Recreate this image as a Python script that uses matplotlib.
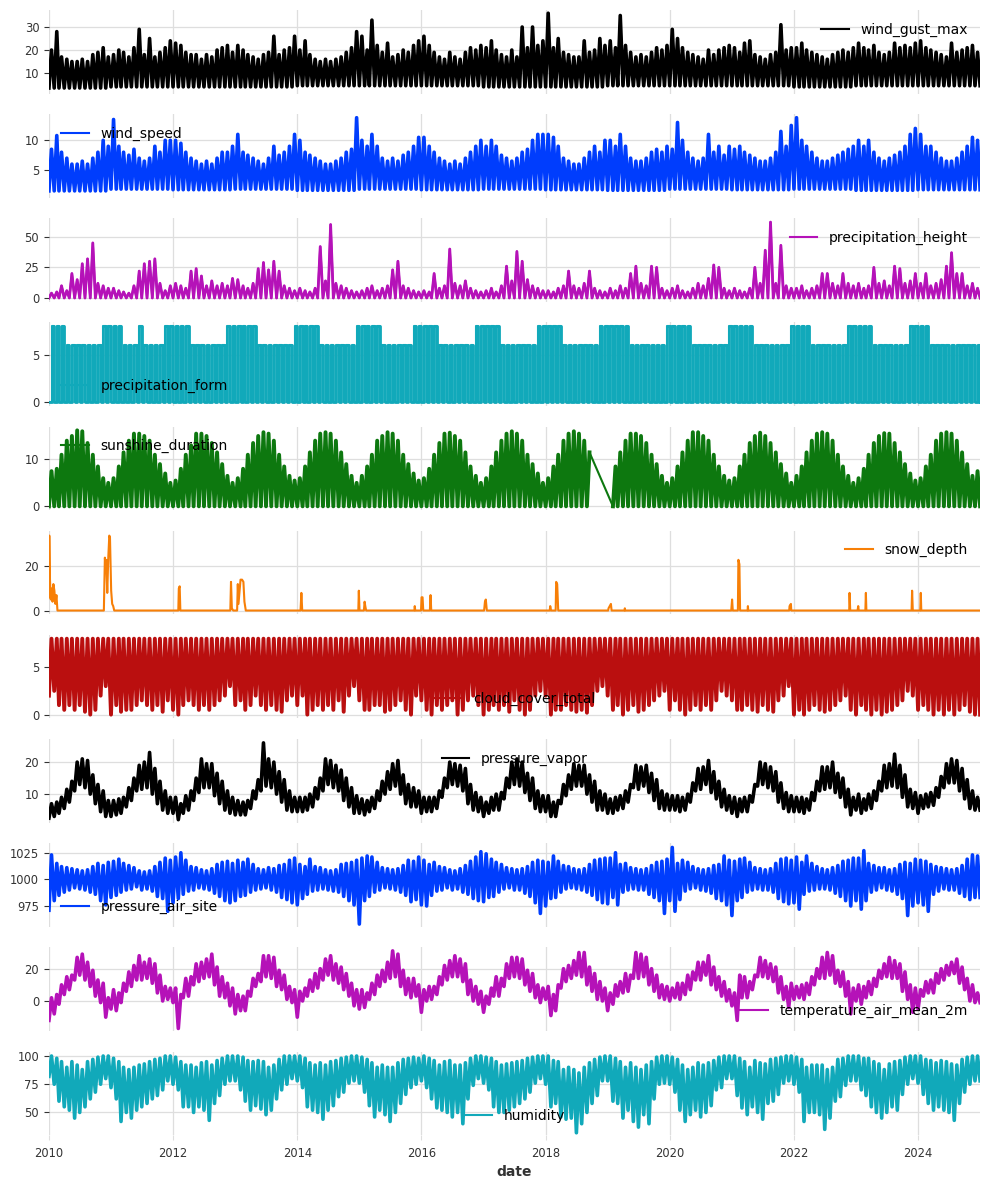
import numpy as np
import pandas as pd
import matplotlib
matplotlib.use('Agg')
import matplotlib.pyplot as plt
import matplotlib.dates as mdates
from matplotlib.lines import Line2D

# monthly envelopes, Jan 2010 .. Dec 2024 (one row per year)
gust_lo = [3.5, 4, 4, 4, 4.5, 4.5, 4.5, 4, 4, 4.5, 4.5, 4.5, 4, 4.5, 4.5]
gust_hi = [
    20, 28, 17, 16, 15, 15, 16, 15, 18, 19, 21, 17,
    18, 20, 19, 17, 21, 29, 18, 25, 17, 19, 21, 24,
    23, 22, 19, 18, 18, 16, 18, 17, 20, 21, 22, 19,
    22, 20, 18, 17, 16, 18, 19, 26, 18, 20, 21, 26,
    20, 24, 18, 16, 15, 16, 15, 16, 17, 19, 21, 28,
    26, 20, 33, 22, 19, 23, 17, 18, 20, 19, 22, 24,
    26, 22, 19, 17, 16, 19, 17, 16, 19, 21, 20, 22,
    21, 24, 20, 18, 17, 20, 17, 30, 21, 30, 22, 24,
    36, 21, 25, 19, 18, 17, 17, 24, 19, 20, 25, 22,
    24, 21, 35, 22, 19, 17, 18, 17, 19, 21, 20, 22,
    29, 25, 21, 19, 18, 17, 16, 20, 18, 20, 21, 22,
    21, 19, 23, 24, 18, 17, 16, 18, 19, 31, 20, 21,
    21, 23, 20, 19, 18, 17, 16, 18, 19, 20, 19, 21,
    23, 21, 20, 22, 19, 18, 19, 23, 21, 22, 21, 23,
    24, 21, 20, 19, 18, 17, 23, 19, 20, 21, 22, 19,
]

ws_lo = [1.5, 1.8, 1.7, 1.8, 1.6, 1.8, 1.7, 1.8, 1.7, 1.6, 1.8, 1.7, 1.8, 1.6, 1.7]
ws_hi = [
    8.5, 10.8, 8, 7, 6, 6, 6.5, 6, 7, 8, 10, 9,
    13.5, 9, 8, 7.5, 8.5, 7, 6.5, 7, 9, 8, 10, 10,
    10, 9.5, 8, 7, 6.5, 6, 6.5, 6, 7, 8, 8, 9,
    11, 8, 7.5, 7, 6.5, 6, 7, 9, 7.5, 8, 9, 11,
    10, 8, 7.5, 7, 6.5, 6, 6, 6.5, 7, 8, 8.5, 13.8,
    10, 9, 11, 9, 7, 6.5, 7, 6.5, 7.5, 8, 9, 10.5,
    10.5, 9, 8, 7, 6.5, 6, 6.5, 6, 7, 8, 9, 10,
    9, 10, 9, 7.5, 7, 6.5, 7, 8, 8.5, 10, 11, 11,
    11, 10.5, 9, 7, 6.5, 6, 6, 7, 8, 9, 8, 10,
    10, 9, 11, 9, 7, 6.5, 6.5, 7, 8, 8.5, 8, 9,
    8.5, 13, 10, 8, 7, 6.5, 7, 11, 8, 9, 7.5, 9,
    8.5, 9, 8, 7.5, 7, 6.5, 6.5, 7, 8, 11.5, 9, 12.5,
    13.8, 10, 9, 8, 7, 6.5, 6.5, 7, 7.5, 8, 8.5, 9,
    10, 9, 10, 8, 7, 6.5, 7, 7.5, 8, 9, 11, 12,
    11, 9, 9, 8, 7, 6.5, 6.5, 7, 8, 9, 10.5, 10,
]

precip_lo = 0
precip_hi = [
    4, 5, 10, 6, 20, 15, 28, 32, 45, 12, 10, 8,
    8, 6, 5, 4, 10, 22, 28, 30, 32, 12, 6, 10,
    12, 10, 8, 22, 24, 18, 10, 14, 10, 12, 10, 16,
    15, 10, 8, 12, 24, 29, 23, 30, 22, 10, 8, 6,
    8, 6, 5, 8, 42, 14, 60, 12, 10, 8, 6, 5,
    6, 8, 10, 6, 8, 10, 23, 30, 10, 8, 6, 5,
    6, 5, 20, 8, 10, 40, 12, 10, 14, 8, 6, 5,
    6, 8, 5, 10, 26, 14, 38, 30, 15, 10, 8, 6,
    6, 5, 8, 10, 22, 10, 8, 12, 22, 8, 6, 5,
    8, 6, 10, 8, 20, 26, 12, 10, 26, 25, 8, 6,
    8, 10, 6, 5, 8, 12, 10, 16, 27, 25, 8, 6,
    8, 6, 5, 8, 25, 12, 39, 62, 12, 43, 10, 8,
    8, 10, 6, 8, 10, 20, 20, 12, 10, 20, 12, 10,
    12, 8, 10, 25, 12, 14, 10, 26, 24, 12, 14, 20,
    12, 20, 10, 12, 15, 26, 37, 20, 20, 10, 12, 8,
]

form_lo = 0
form_hi = [
    8, 8, 8, 6, 6, 6, 6, 6, 6, 6, 8, 8,
    8, 8, 6, 6, 6, 8, 6, 6, 6, 6, 8, 8,
    8, 8, 8, 6, 6, 6, 6, 6, 6, 6, 8, 8,
    8, 8, 8, 8, 6, 6, 6, 6, 6, 6, 6, 8,
    8, 8, 8, 8, 6, 6, 6, 6, 6, 6, 6, 8,
    8, 8, 8, 8, 6, 6, 6, 6, 6, 6, 8, 8,
    8, 8, 8, 6, 6, 6, 6, 6, 6, 6, 8, 8,
    8, 8, 8, 6, 6, 6, 6, 6, 6, 6, 8, 8,
    8, 8, 8, 6, 6, 6, 6, 6, 6, 6, 8, 8,
    8, 8, 8, 8, 6, 6, 6, 6, 6, 6, 6, 8,
    8, 8, 8, 8, 6, 6, 6, 6, 6, 6, 6, 8,
    8, 8, 8, 8, 6, 6, 6, 6, 6, 6, 6, 8,
    8, 8, 8, 6, 6, 6, 6, 6, 6, 6, 8, 8,
    8, 8, 8, 6, 6, 6, 6, 6, 6, 6, 8, 8,
    8, 8, 6, 6, 6, 6, 6, 6, 6, 6, 6, 6,
]

nan = np.nan
sun_lo = 0
sun_hi = [
    7.5, 8, 11, 14, 15, 16.2, 16, 13.5, 11, 8.5, 6, 5,
    6, 8.5, 11.5, 14, 15.5, 15.5, 15, 14, 11, 9, 7, 5,
    5.5, 8, 11, 13, 15.5, 15.5, 15, 13.5, 11.5, 9, 6.5, 5,
    6, 8, 11, 13.5, 15, 15.8, 15.5, 14, 11, 8.5, 6.5, 5.5,
    6, 8.5, 11.5, 14, 15.5, 15.8, 15.5, 14, 11.5, 9, 6.5, 5,
    6.5, 8.5, 11, 14, 15, 15.8, 15.5, 14, 11, 9, 7, 5.5,
    6, 8, 11, 13.5, 15.5, 15.7, 15, 14, 11.5, 8.5, 6.5, 5,
    6, 8.5, 11.5, 14, 15.5, 16, 15.5, 14, 11, 9, 7, 5,
    6, 8.5, 11, 14, 15.5, 16, 15.5, 14, 11.5, nan, nan, nan,
    nan, 8.5, 11.5, 14, 15.5, 15.5, 15, 13.5, 11, 9, 6.5, 5,
    6, 8.5, 11.5, 14, 15.8, 15.8, 15, 14, 11, 8.5, 6.5, 5.5,
    6, 8.5, 11, 13.5, 15, 15.7, 15, 13.5, 11.5, 9, 7, 5,
    6.5, 8.5, 11.5, 14, 15.5, 15.8, 15.5, 14, 11, 8.5, 6.5, 5,
    6, 8, 11, 13.5, 15, 15.6, 15.5, 13.5, 11.5, 9, 7, 5.5,
    6, 8.5, 11, 14, 15.5, 15.8, 15.5, 14, 11.5, 9, 6.5, 7.5,
]

snow_dates = [
    '2010-01-01', '2010-01-03', '2010-01-07', '2010-01-12', '2010-01-17', '2010-01-22',
    '2010-01-27', '2010-02-02', '2010-02-08', '2010-02-14', '2010-02-20',
    '2010-11-20', '2010-11-26', '2010-12-01', '2010-12-04', '2010-12-10', '2010-12-16',
    '2010-12-22', '2010-12-26', '2011-01-02', '2011-01-08', '2011-01-14', '2011-01-20',
    '2012-02-01', '2012-02-04', '2012-02-09', '2012-02-13',
    '2012-12-03', '2012-12-07', '2012-12-12', '2012-12-20',
    '2013-01-12', '2013-01-16', '2013-01-20', '2013-02-01', '2013-02-10', '2013-02-18',
    '2013-02-24', '2013-03-04',
    '2014-01-20', '2014-01-25', '2014-01-30',
    '2014-12-26', '2014-12-29', '2015-01-02', '2015-01-28', '2015-02-01', '2015-02-05',
    '2015-02-10',
    '2015-11-21', '2015-11-23', '2015-11-26', '2015-12-30', '2016-01-02', '2016-01-08',
    '2016-01-12', '2016-02-20', '2016-02-24', '2016-02-28',
    '2017-01-04', '2017-01-09', '2017-01-14', '2017-01-20',
    '2018-01-25', '2018-01-28', '2018-02-02', '2018-03-01', '2018-03-04', '2018-03-10',
    '2018-03-16',
    '2019-01-04', '2019-01-06', '2019-01-20', '2019-01-24', '2019-04-10', '2019-04-12',
    '2019-04-14',
    '2020-12-28', '2021-01-02', '2021-01-06', '2021-02-05', '2021-02-08', '2021-02-14',
    '2021-02-18', '2021-04-03', '2021-04-05', '2021-04-07',
    '2021-12-04', '2021-12-06', '2021-12-14', '2021-12-16',
    '2022-11-22', '2022-11-24', '2022-11-28', '2023-01-10', '2023-01-14', '2023-01-17',
    '2023-02-25', '2023-02-28', '2023-03-03',
    '2023-11-24', '2023-11-27', '2023-12-01', '2024-01-14', '2024-01-17', '2024-01-20',
    '2024-12-31',
]
snow_vals = [
    6, 34, 14, 5, 10, 4,
    12, 9, 3, 7, 0,
    0, 24, 18, 23, 8, 24,
    34, 33, 9, 3, 2, 0,
    0, 10, 11, 0,
    0, 13, 1, 0,
    0, 12, 3, 14, 14, 13,
    4, 0,
    0, 8, 0,
    0, 9, 0, 0, 4, 2,
    0,
    0, 2, 0, 0, 6, 6,
    0, 0, 7, 0,
    0, 4, 5, 0,
    0, 2, 0, 0, 13, 12,
    0,
    0, 1, 3, 0, 0, 1,
    0,
    0, 5, 0, 0, 23, 21,
    0, 0, 2, 0,
    0, 2, 3, 0,
    0, 8, 0, 0, 2, 0,
    0, 8, 0,
    0, 9, 0, 0, 8, 0,
    0,
]

cloud_lo = [
    2, 2.5, 1, 0.5, 1, 0.5, 1, 0.3, 0, 0.5, 2, 3,
    0, 1, 0.3, 0.5, 0.5, 1, 1.5, 1, 0.5, 1, 0.3, 1.5,
    0.5, 0, 1, 1.5, 1, 0.5, 1, 0.5, 1, 1.5, 2, 3,
    1, 1.5, 0.5, 1, 2, 1, 0.5, 1, 0.5, 0.3, 1.5, 2,
    1, 2, 0, 0.5, 1, 0.5, 1, 0.5, 1.5, 0.3, 2, 3,
    1.5, 0.5, 0.5, 1, 1, 0.3, 0.5, 1, 1.5, 0.5, 0, 2,
    1.5, 0.5, 0, 1, 0.5, 1, 1.5, 0, 0.5, 1.5, 2, 1,
    0, 0.5, 1, 0.5, 1, 0.3, 1.5, 0.5, 0, 0.5, 2, 2.5,
    2, 0, 0.5, 0.5, 1, 0.5, 0.3, 0.5, 0.2, 1, 2.5, 3,
    2, 0.5, 1, 0, 0.5, 1, 0.3, 0.5, 1, 1.5, 2, 2.5,
    0.5, 1.5, 0.5, 0, 0.5, 1, 0.5, 1, 0.5, 1.5, 2.5, 2,
    1.5, 0.5, 0.5, 1, 0.5, 0.3, 1, 0.5, 0.3, 1.5, 2, 3,
    0, 0.5, 0, 0.5, 1, 0.5, 0.3, 0.5, 1, 1.5, 2, 0.5,
    0, 1, 0.5, 0, 0.5, 0, 0.3, 0.5, 1, 1.5, 2.5, 2,
    0.5, 1, 0.5, 0, 0.5, 0, 0.5, 0, 0.5, 1, 0.3, 0,
]
cloud_hi = 8

vap_lo = [
    2.5, 3, 4, 5.5, 7.5, 11, 13, 12, 10, 7, 4.5, 3,
    3, 3.5, 4, 6, 8, 11, 11.5, 12, 10, 7, 5, 4,
    4, 2, 4, 5, 8, 10.5, 12, 12, 9.5, 7, 5, 4,
    3.5, 3.5, 3.5, 5.5, 8.5, 11, 12.5, 12, 10, 7.5, 5, 4.5,
    4.5, 4.5, 5, 6, 8.5, 11, 13, 12, 11, 8, 6, 4,
    4, 3.5, 4.5, 5.5, 8, 10, 11.5, 12.5, 10, 7, 6, 6,
    4, 4.5, 4.5, 5.5, 9, 12, 13, 12.5, 11, 7, 5, 4.5,
    3, 4, 5, 5, 8.5, 12, 13, 12.5, 10.5, 8, 5.5, 4.5,
    4.5, 3, 3, 7, 9.5, 11.5, 12.5, 12.5, 10, 7.5, 5, 5,
    4, 4, 5, 5.5, 7.5, 12, 11.5, 12.5, 10.5, 8, 5.5, 5,
    5, 5, 4.5, 5, 7.5, 11, 11.5, 13, 10.5, 8.5, 6, 5,
    4, 3, 4.5, 4.5, 7.5, 12.5, 13, 12, 11, 7.5, 5.5, 4.5,
    4.5, 4.5, 4, 5, 8, 11, 11.5, 12, 10.5, 9, 6, 3.5,
    5, 4, 5, 5.5, 8, 11, 12, 12.5, 12, 9, 6, 5.5,
    4, 5.5, 6, 6.5, 9, 12, 13.5, 13.5, 11, 8.5, 5.5, 5,
]
vap_hi = [
    7, 7.5, 9, 11.5, 14, 20, 21, 20.5, 16, 13, 11, 8,
    8, 8.5, 9, 12, 15, 19, 20, 23, 18, 14, 11, 9,
    9, 7, 9.5, 11, 15, 21, 19.5, 19.5, 16.5, 14, 11, 9,
    8, 7.5, 8, 11, 14.5, 26, 21, 20, 17, 14.5, 11, 9,
    9, 9, 10, 12, 15, 21, 20.5, 19, 17.5, 15, 12, 9.5,
    8.5, 8, 9, 11, 14, 17, 19.5, 20.5, 16, 13, 12, 11,
    9, 9, 9, 11, 15, 20, 19.5, 19, 18, 13, 10.5, 9,
    7.5, 9, 10, 10.5, 15, 20, 21, 20, 16.5, 15, 11, 9.5,
    9.5, 7.5, 8, 13, 16, 19.5, 19, 19, 16, 14, 11, 10,
    8.5, 9, 9.5, 11, 13, 19, 18.5, 19, 16.5, 14.5, 11, 10,
    9.5, 9.5, 9, 10, 13.5, 18, 18.5, 20.5, 17, 14, 11.5, 9.5,
    9, 8.5, 9, 9.5, 13, 20, 19.5, 18.5, 17, 13.5, 10.5, 9.5,
    9, 9, 8.5, 10.5, 14, 18.5, 18.5, 20, 16.5, 15, 11.5, 9,
    10, 8.5, 10, 11, 14, 19, 19.5, 22.5, 19, 16, 11.5, 10.5,
    9.5, 10, 10.5, 12, 15.5, 19.5, 21, 20.5, 18, 14.5, 11, 9,
]

pres_lo = [
    971, 980, 985, 988, 990, 992, 991, 990, 988, 986, 980, 976,
    983, 985, 988, 990, 991, 993, 990, 991, 989, 984, 982, 970,
    978, 982, 986, 989, 990, 992, 991, 990, 987, 984, 980, 978,
    980, 984, 985, 988, 990, 991, 992, 990, 988, 983, 981, 978,
    976, 982, 986, 989, 990, 991, 990, 989, 988, 984, 980, 976,
    958, 980, 984, 988, 990, 992, 991, 990, 988, 985, 979, 981,
    976, 975, 985, 989, 990, 992, 990, 991, 988, 986, 982, 980,
    979, 983, 984, 988, 991, 992, 990, 990, 987, 984, 978, 968,
    975, 982, 983, 988, 991, 992, 991, 990, 988, 985, 981, 978,
    977, 983, 976, 988, 990, 991, 990, 990, 986, 983, 980, 968,
    980, 970, 981, 989, 991, 992, 990, 989, 987, 982, 980, 976,
    966, 980, 983, 988, 990, 991, 990, 990, 988, 982, 979, 977,
    978, 972, 986, 989, 990, 991, 991, 990, 987, 984, 980, 975,
    980, 972, 980, 988, 990, 992, 990, 989, 986, 982, 966, 975,
    978, 976, 970, 986, 989, 991, 990, 990, 987, 984, 981, 983,
]
pres_hi = [
    1023, 1015, 1012, 1011, 1010, 1009, 1008, 1009, 1012, 1015, 1013, 1016,
    1017, 1019, 1015, 1013, 1011, 1008, 1007, 1008, 1012, 1016, 1020, 1018,
    1021, 1025, 1018, 1012, 1011, 1009, 1008, 1010, 1014, 1016, 1017, 1015,
    1018, 1016, 1019, 1014, 1010, 1009, 1011, 1010, 1013, 1014, 1018, 1020,
    1014, 1012, 1019, 1012, 1011, 1009, 1008, 1009, 1014, 1015, 1016, 1018,
    1020, 1022, 1021, 1016, 1011, 1010, 1009, 1010, 1013, 1018, 1017, 1021,
    1018, 1014, 1016, 1012, 1011, 1009, 1008, 1010, 1013, 1017, 1021, 1026,
    1024, 1019, 1016, 1014, 1011, 1010, 1009, 1010, 1012, 1016, 1018, 1017,
    1016, 1022, 1017, 1013, 1012, 1010, 1009, 1010, 1014, 1018, 1019, 1020,
    1020, 1025, 1014, 1015, 1011, 1010, 1009, 1010, 1013, 1016, 1017, 1019,
    1030, 1015, 1018, 1016, 1012, 1010, 1009, 1010, 1013, 1014, 1022, 1018,
    1017, 1019, 1020, 1016, 1011, 1010, 1009, 1010, 1015, 1019, 1020, 1018,
    1021, 1016, 1022, 1015, 1012, 1010, 1009, 1011, 1013, 1017, 1018, 1020,
    1020, 1027, 1015, 1013, 1011, 1011, 1009, 1010, 1014, 1016, 1015, 1019,
    1018, 1017, 1014, 1012, 1011, 1010, 1009, 1010, 1013, 1019, 1023, 1022,
]

temp_lo = [
    -12, -8, -2, 4, 7, 13, 16, 13, 9, 3, -1, -10,
    -5, -6, -1, 6, 9, 13, 13, 14, 11, 5, 0, 1,
    -1, -17, 2, 3, 10, 12, 14, 15, 10, 3, 2, -3,
    -8, -6, -6, 3, 9, 12, 15, 14, 9, 7, 1, -1,
    -10, 0, 3, 6, 8, 13, 16, 13, 11, 7, 3, -3,
    -5, -4, 1, 4, 9, 12, 14, 15, 9, 4, 2, 3,
    -7, 0, 1, 4, 10, 13, 15, 15, 12, 4, 0, -2,
    -7, -2, 3, 3, 9, 14, 15, 14, 10, 6, 2, -1,
    1, -9, -6, 8, 12, 14, 16, 15, 10, 6, 1, 0,
    -6, -2, 3, 5, 6, 14, 14, 15, 10, 6, 2, 1,
    0, 2, 1, 4, 7, 13, 13, 16, 10, 7, 3, 0,
    -3, -12, 2, 2, 7, 15, 15, 14, 12, 5, 1, -4,
    1, 2, 1, 4, 10, 14, 14, 16, 11, 9, 3, -8,
    0, -2, 2, 4, 9, 14, 15, 14, 14, 6, 1, -7,
    -5, 3, 5, 5, 11, 13, 16, 17, 11, 7, 0, -1,
]
temp_hi = [
    2, 4, 10, 15, 16, 27, 29, 24, 19, 13, 11, 2,
    7, 5, 11, 18, 22, 28, 24, 26, 23, 16, 9, 8,
    8, 4, 14, 15, 23, 24, 26, 29, 21, 15, 11, 8,
    4, 3, 6, 14, 17, 28, 28, 27, 19, 16, 9, 7,
    6, 8, 13, 17, 20, 26, 28, 23, 21, 17, 11, 7,
    7, 5, 11, 16, 19, 24, 31, 29, 19, 14, 14, 10,
    7, 9, 9, 15, 22, 25, 28, 26, 23, 13, 9, 6,
    3, 8, 15, 14, 23, 27, 27, 26, 19, 17, 10, 8,
    9, 4, 10, 20, 22, 25, 30, 30, 21, 17, 12, 8,
    5, 10, 12, 17, 16, 30, 29, 27, 20, 16, 10, 9,
    8, 11, 11, 16, 18, 24, 24, 28, 21, 15, 12, 7,
    5, 16, 15, 12, 16, 27, 25, 23, 21, 15, 9, 11,
    9, 10, 11, 15, 20, 27, 30, 28, 19, 18, 12, 8,
    10, 9, 12, 14, 19, 23, 27, 25, 23, 18, 10, 8,
    7, 12, 13, 17, 20, 22, 24, 26, 21, 14, 10, 5,
]

hum_lo = [
    82, 75, 60, 55, 52, 45, 50, 55, 62, 68, 75, 80,
    72, 62, 42, 50, 45, 52, 55, 58, 62, 65, 70, 78,
    75, 70, 55, 55, 50, 55, 52, 43, 58, 65, 75, 78,
    78, 70, 60, 52, 56, 53, 48, 52, 62, 70, 75, 80,
    78, 72, 55, 52, 50, 44, 52, 56, 64, 68, 76, 78,
    76, 68, 56, 46, 52, 48, 42, 50, 58, 66, 72, 75,
    78, 72, 62, 54, 52, 50, 46, 50, 40, 62, 74, 80,
    76, 70, 55, 50, 50, 52, 55, 58, 62, 68, 76, 80,
    75, 55, 58, 46, 44, 45, 32, 40, 50, 58, 65, 78,
    78, 60, 58, 45, 52, 42, 37, 48, 40, 62, 75, 76,
    75, 68, 52, 42, 48, 52, 46, 50, 56, 70, 72, 80,
    80, 65, 54, 48, 55, 50, 44, 58, 60, 66, 76, 78,
    75, 68, 42, 50, 50, 48, 35, 45, 60, 64, 74, 78,
    78, 70, 65, 55, 50, 45, 50, 55, 52, 66, 75, 80,
    76, 66, 58, 52, 55, 52, 50, 43, 58, 68, 75, 78,
]
hum_hi = [
    100, 98, 95, 90, 95, 92, 88, 95, 97, 99, 100, 100,
    98, 95, 90, 88, 90, 92, 93, 95, 97, 98, 100, 100,
    99, 95, 92, 92, 90, 94, 95, 92, 96, 98, 100, 100,
    100, 99, 96, 95, 96, 95, 90, 92, 97, 100, 100, 100,
    100, 98, 94, 92, 94, 92, 95, 96, 98, 99, 100, 100,
    99, 97, 94, 90, 92, 90, 90, 94, 97, 98, 99, 98,
    100, 98, 96, 92, 95, 96, 92, 92, 94, 98, 100, 100,
    99, 98, 95, 92, 93, 94, 95, 96, 98, 99, 100, 100,
    100, 96, 95, 88, 90, 88, 85, 90, 94, 97, 99, 100,
    100, 98, 95, 90, 94, 90, 88, 92, 95, 99, 100, 100,
    99, 97, 92, 88, 90, 94, 92, 94, 96, 99, 100, 100,
    100, 98, 95, 90, 96, 94, 93, 97, 98, 99, 100, 100,
    99, 97, 90, 92, 92, 92, 88, 90, 97, 98, 100, 100,
    100, 98, 98, 95, 93, 88, 93, 95, 96, 99, 100, 100,
    100, 97, 96, 94, 96, 95, 93, 92, 97, 99, 100, 100,
]

# darts colour cycle
colors = ['#000000', '#003DFD', '#b512b8', '#11a9ba', '#0d780f', '#f77f07', '#ba0f0f']

plt.rcParams.update({
    'font.family': 'DejaVu Sans',
    'axes.facecolor': 'white',
    'figure.facecolor': 'white',
    'axes.grid': True,
    'grid.color': '#dedede',
    'grid.linewidth': 0.9,
    'axes.spines.left': False,
    'axes.spines.right': False,
    'axes.spines.top': False,
    'axes.spines.bottom': False,
    'xtick.labelsize': 8.3,
    'ytick.labelsize': 8.3,
    'xtick.color': '#333333',
    'ytick.color': '#333333',
    'legend.frameon': False,
    'legend.fontsize': 10,
})

months = pd.date_range('2010-01-01', periods=180, freq='MS')
last_day = np.datetime64('2024-12-31')


def monthly(v):
    v = np.atleast_1d(np.asarray(v, dtype=float))
    if v.size == 1:
        return np.full(180, v[0])
    if v.size == 15:
        return np.repeat(v, 12)
    return v


def zigzag(lo, hi):
    # low at the start of each month, high in the middle; NaN marks missing months
    lo, hi = monthly(lo), monthly(hi)
    lo = np.where(np.isnan(hi), np.nan, lo)
    x = np.empty(361, dtype='datetime64[ns]')
    x[0:360:2] = months.values
    x[1:360:2] = (months + pd.Timedelta(days=15)).values
    x[360] = last_day
    y = np.empty(361)
    y[0:360:2] = lo
    y[1:360:2] = hi
    y[360] = lo[-1]
    return x, y


panels = [
    ('wind_gust_max', gust_lo, gust_hi),
    ('wind_speed', ws_lo, ws_hi),
    ('precipitation_height', precip_lo, precip_hi),
    ('precipitation_form', form_lo, form_hi),
    ('sunshine_duration', sun_lo, sun_hi),
    ('snow_depth', None, None),
    ('cloud_cover_total', cloud_lo, cloud_hi),
    ('pressure_vapor', vap_lo, vap_hi),
    ('pressure_air_site', pres_lo, pres_hi),
    ('temperature_air_mean_2m', temp_lo, temp_hi),
    ('humidity', hum_lo, hum_hi),
]
legend_locs = ['upper right', 'upper left', 'upper right', 'lower left', 'upper left',
               'upper right', 'lower center', 'upper center', 'lower left',
               'lower right', 'lower center']
ylims = [(1.1, 37.4), (0.36, 14.4), (-3.1, 65.1), (-0.4, 8.4), (-0.81, 17.0),
         (-1.7, 36.2), (-0.4, 8.4), (1.1, 27.2), (955.5, 1034), (-18.5, 33.2), (30, 104)]
yticks = [[10, 20, 30], [5, 10], [0, 25, 50], [0, 5], [0, 10], [0, 20], [0, 5],
          [10, 20], [975, 1000, 1025], [0, 20], [50, 75, 100]]
# the monthly zig-zag is drawn heavier so it reads as a dense daily band
widths = [2.6, 2.6, 2.0, 2.0, 2.8, 1.5, 2.8, 2.6, 2.6, 2.6, 2.6]

fig, axes = plt.subplots(11, 1, sharex=True, figsize=(9.89, 11.9), dpi=100)
fig.subplots_adjust(left=0.0495, right=0.991, top=0.9916, bottom=0.0462, hspace=0.247)

for i, (ax, (name, lo, hi)) in enumerate(zip(axes, panels)):
    c = colors[i % len(colors)]
    if name == 'snow_depth':
        ax.plot(pd.to_datetime(snow_dates), snow_vals, color=c, lw=widths[i])
    else:
        x, y = zigzag(lo, hi)
        ds = 'steps-post' if name == 'precipitation_form' else 'default'
        ax.plot(x, y, color=c, lw=widths[i], drawstyle=ds)
        ok = ~np.isnan(y)
        # thin line bridging missing data, as a plain line plot does
        ax.plot(x[ok], y[ok], color=c, lw=1.5, drawstyle=ds)
    ax.set_ylim(*ylims[i])
    ax.set_yticks(yticks[i])
    ax.tick_params(axis='y', length=3.5, width=0.8)
    ax.tick_params(axis='x', length=0)
    ax.legend([Line2D([], [], color=c, lw=1.5)], [name], loc=legend_locs[i])

ax = axes[-1]
ax.set_xlim(np.datetime64('2010-01-01'), last_day)
ax.xaxis.set_major_locator(mdates.YearLocator(2))
ax.xaxis.set_major_formatter(mdates.DateFormatter('%Y'))
ax.tick_params(axis='x', length=3.5, color='#dedede', pad=5)
ax.set_xlabel('date', fontweight='bold', fontsize=10, color='#333333')

fig.savefig('out.png', dpi=100)
